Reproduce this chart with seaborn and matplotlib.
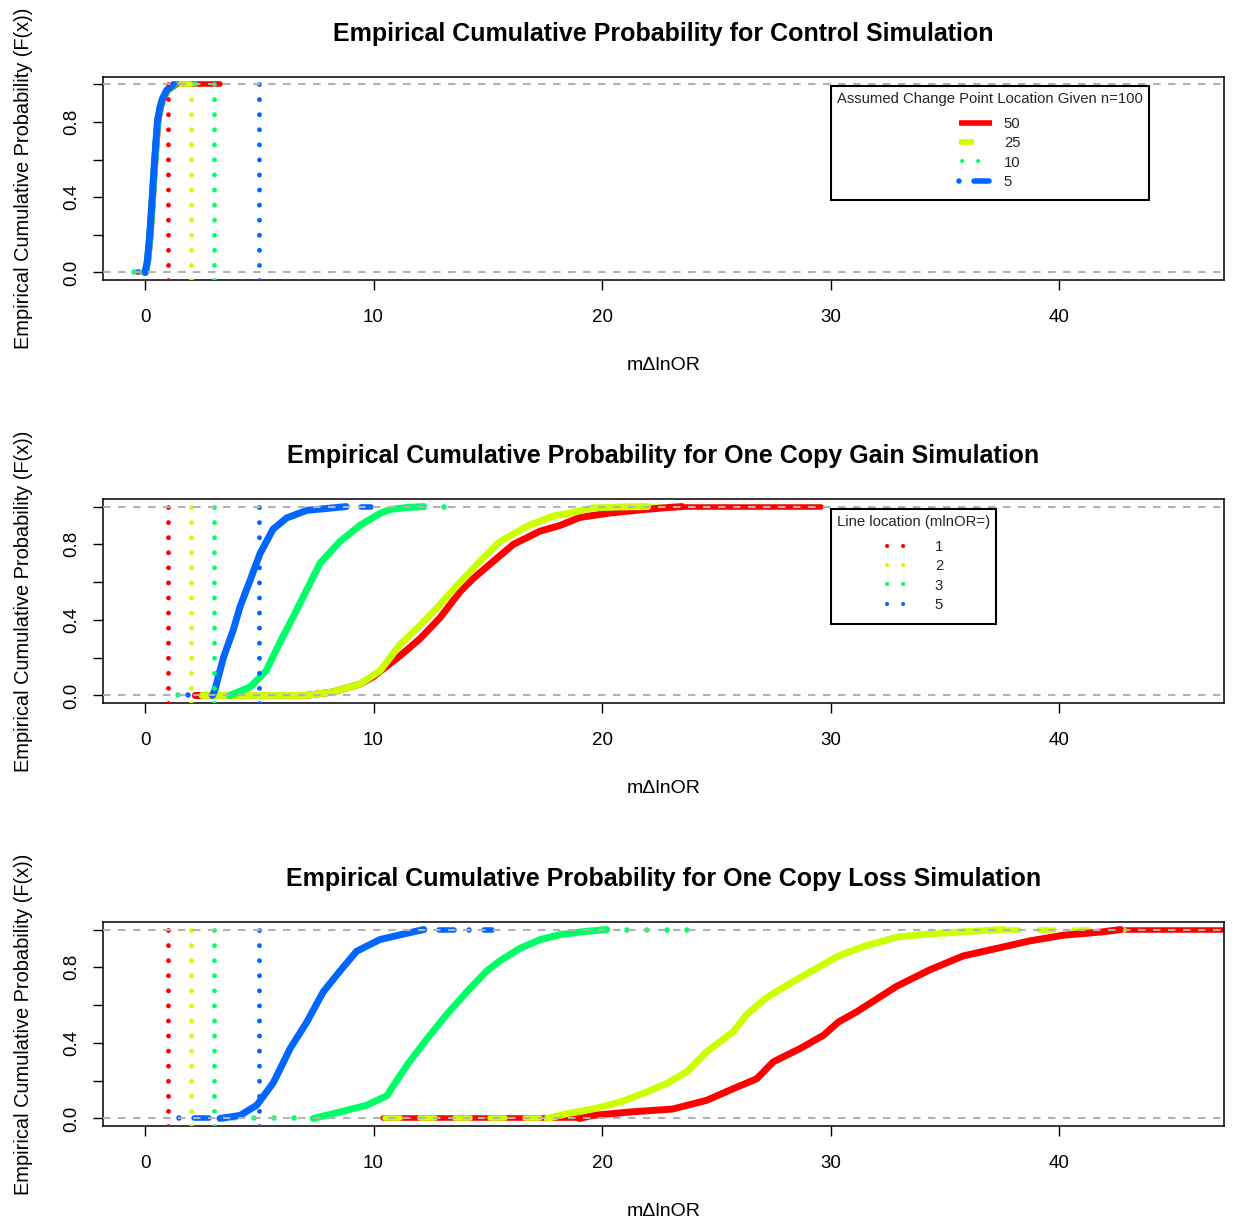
import numpy as np
import pandas as pd
import matplotlib
matplotlib.use("Agg")
import matplotlib.pyplot as plt
from matplotlib.lines import Line2D
import seaborn as sns

# ---------------------------------------------------------------- data
series = ["50", "25", "10", "5"]
line_locs = [1, 2, 3, 5]
line_loc_labels = ["1", "2", "3", "5"]

# Control simulation: ECDF knots (x) and cumulative probability (F)
ctrl_50_x = [0.02, 0.12, 0.22, 0.32, 0.41, 0.50, 0.57, 0.68, 0.77, 1.00, 1.35]
ctrl_50_f = [0.00, 0.06, 0.19, 0.37, 0.545, 0.70, 0.81, 0.88, 0.92, 0.97, 1.00]
ctrl_25_x = [0.01, 0.11, 0.21, 0.31, 0.40, 0.49, 0.56, 0.67, 0.76, 0.98, 1.30]
ctrl_25_f = [0.00, 0.06, 0.19, 0.37, 0.545, 0.70, 0.81, 0.88, 0.92, 0.97, 1.00]
ctrl_10_x = [0.00, 0.11, 0.21, 0.31, 0.40, 0.49, 0.56, 0.67, 0.76, 0.97, 1.30]
ctrl_10_f = [0.00, 0.06, 0.19, 0.37, 0.545, 0.70, 0.81, 0.88, 0.92, 0.97, 1.00]
ctrl_5_x = [0.00, 0.10, 0.20, 0.30, 0.39, 0.48, 0.55, 0.66, 0.75, 0.95, 1.25]
ctrl_5_f = [0.00, 0.06, 0.19, 0.37, 0.545, 0.70, 0.81, 0.88, 0.92, 0.97, 1.00]
ctrl_lo = [-0.2, -0.3, -0.5, -0.3]
ctrl_hi = [3.3, 2.6, 3.05, 1.6]

# One copy gain simulation
gain_50_x = [2.2, 7.0, 8.2, 9.4, 10.0, 11.16, 12.03, 12.9, 13.79, 14.37, 15.24,
             16.12, 17.29, 18.16, 19.04, 20.35, 21.8, 23.0, 23.5]
gain_50_f = [0.0, 0.0, 0.018, 0.06, 0.10, 0.21, 0.30, 0.41, 0.55, 0.62, 0.71,
             0.80, 0.87, 0.90, 0.943, 0.966, 0.984, 0.996, 1.0]
gain_25_x = [2.5, 7.0, 8.2, 9.4, 10.28, 11.16, 12.03, 12.9, 13.79, 14.66, 15.54,
             16.7, 17.87, 18.6, 19.6, 20.8, 22.0]
gain_25_f = [0.0, 0.0, 0.018, 0.06, 0.13, 0.27, 0.37, 0.48, 0.60, 0.71, 0.815,
             0.895, 0.95, 0.966, 0.993, 0.998, 1.0]
gain_10_x = [3.7, 4.6, 5.3, 5.9, 6.5, 7.08, 7.66, 8.53, 9.4, 10.3, 10.7, 11.45, 12.2]
gain_10_f = [0.0, 0.045, 0.13, 0.28, 0.42, 0.56, 0.70, 0.815, 0.90, 0.965, 0.984, 0.995, 1.0]
gain_5_x = [2.95, 3.06, 3.43, 3.87, 4.16, 4.6, 5.03, 5.6, 6.2, 7.08, 7.95, 8.8]
gain_5_f = [0.0, 0.03, 0.20, 0.35, 0.47, 0.61, 0.75, 0.88, 0.94, 0.98, 0.99, 1.0]
gain_lo = [2.2, 2.5, 1.45, 1.9]
gain_hi = [29.6, 23.5, 13.6, 9.9]

# One copy loss simulation
loss_50_x = [19.0, 19.6, 21.2, 23.1, 24.58, 25.75, 26.77, 27.5, 28.67, 29.69, 30.34,
             31.15, 32.9, 34.35, 35.8, 37.27, 38.73, 40.19, 41.94, 42.7]
loss_50_f = [0.0, 0.016, 0.034, 0.05, 0.096, 0.158, 0.21, 0.30, 0.37, 0.44, 0.51,
             0.565, 0.70, 0.787, 0.86, 0.90, 0.94, 0.97, 0.988, 1.0]
loss_25_x = [17.6, 18.45, 19.6, 20.8, 21.96, 22.83, 23.7, 24.58, 25.75, 26.33, 27.2,
             28.37, 29.54, 30.34, 31.44, 32.9, 34.35, 35.8, 37.6]
loss_25_f = [0.0, 0.025, 0.05, 0.087, 0.14, 0.185, 0.246, 0.353, 0.46, 0.55, 0.64,
             0.725, 0.805, 0.86, 0.91, 0.96, 0.977, 0.988, 1.0]
loss_10_x = [7.36, 8.53, 9.7, 10.58, 11.45, 12.33, 13.2, 14.08, 14.95, 15.54, 16.4,
             17.3, 18.16, 19.04, 20.2]
loss_10_f = [0.0, 0.034, 0.07, 0.12, 0.28, 0.42, 0.55, 0.67, 0.78, 0.835, 0.90,
             0.947, 0.973, 0.987, 1.0]
loss_5_x = [3.28, 4.16, 4.89, 5.62, 6.35, 7.08, 7.8, 8.53, 9.26, 10.28, 11.45, 12.2]
loss_5_f = [0.0, 0.016, 0.07, 0.19, 0.37, 0.51, 0.67, 0.78, 0.885, 0.947, 0.98, 1.0]
loss_lo = [10.4, 10.5, 3.9, 1.5]
loss_hi = [47.5, 43.5, 24.1, 15.2]

x_ticks = [0, 10, 20, 30, 40]
y_ticks = [0.0, 0.2, 0.4, 0.6, 0.8, 1.0]
y_tick_labels = ["0.0", "", "0.4", "", "0.8", ""]

titles = [
    "Empirical Cumulative Probability for Control Simulation",
    "Empirical Cumulative Probability for One Copy Gain Simulation",
    "Empirical Cumulative Probability for One Copy Loss Simulation",
]

# ---------------------------------------------------------------- styling
colors = ["#FF0000", "#CCFF00", "#00FF66", "#0066FF"]   # rainbow(5)[1:4]
tail_styles = ["solid", (0, (2.7, 3.6)), (0, (0.001, 3.6)), (0, (0.001, 2.7, 2.7, 2.7))]
curve_lw = 5.0
tail_lw = 4.0
vline_lw = 3.5
dot_style = (0, (0.001, 3.1))
legend_dot = (3.1, (0.001, 3.84))

sns.set_theme(style="white")
plt.rcParams["font.family"] = ["Liberation Sans", "DejaVu Sans"]
plt.rcParams["axes.edgecolor"] = "black"

fig = plt.figure(figsize=(12.36, 12.21), dpi=100)
fig.patch.set_facecolor("white")

panels = [
    ([ctrl_50_x, ctrl_25_x, ctrl_10_x, ctrl_5_x],
     [ctrl_50_f, ctrl_25_f, ctrl_10_f, ctrl_5_f], ctrl_lo, ctrl_hi),
    ([gain_50_x, gain_25_x, gain_10_x, gain_5_x],
     [gain_50_f, gain_25_f, gain_10_f, gain_5_f], gain_lo, gain_hi),
    ([loss_50_x, loss_25_x, loss_10_x, loss_5_x],
     [loss_50_f, loss_25_f, loss_10_f, loss_5_f], loss_lo, loss_hi),
]

axes_rects = [
    [0.0833, 0.7707, 0.9070, 0.1663],
    [0.0833, 0.4242, 0.9070, 0.1671],
    [0.0833, 0.0778, 0.9070, 0.1671],
]

leg_fs = 10.75

for p, (xs, fs, lo, hi) in enumerate(panels):
    ax = fig.add_axes(axes_rects[p])
    ax.set_facecolor("white")

    for i, name in enumerate(series):
        df = pd.DataFrame({"x": xs[i], "F": fs[i]})
        # left (F = 0) and right (F = 1) horizontal extensions of the step function
        sns.lineplot(x=[lo[i], xs[i][0]], y=[0, 0], ax=ax, color=colors[i],
                     lw=tail_lw, linestyle=tail_styles[i], dash_capstyle="round",
                     solid_capstyle="round", zorder=2)
        sns.lineplot(x=[xs[i][-1], hi[i]], y=[1, 1], ax=ax, color=colors[i],
                     lw=tail_lw, linestyle=tail_styles[i], dash_capstyle="round",
                     solid_capstyle="round", zorder=2)
        sns.lineplot(data=df, x="x", y="F", ax=ax, color=colors[i], lw=curve_lw,
                     sort=False, estimator=None, solid_capstyle="round",
                     solid_joinstyle="round", zorder=3)

    for loc, c in zip(line_locs, colors):
        ax.axvline(loc, color=c, lw=vline_lw, linestyle=dot_style,
                   dash_capstyle="round", zorder=4)

    for yv in (0, 1):
        ax.axhline(yv, color="#B3B3B3", lw=1.5, linestyle=(0, (3.6, 3.6)), zorder=5)

    ax.set_xlim(-1.84, 47.22)
    ax.set_ylim(-0.04, 1.04)
    ax.set_xticks(x_ticks)
    ax.set_xticklabels([str(t) for t in x_ticks])
    ax.set_yticks(y_ticks)
    ax.set_yticklabels(y_tick_labels)
    ax.tick_params(axis="both", which="major", bottom=True, left=True, direction="out",
                   length=7, width=1.0, color="black", labelsize=13.5, labelcolor="black")
    ax.tick_params(axis="x", pad=14)
    ax.tick_params(axis="y", pad=9, labelrotation=90)
    for lab in ax.get_yticklabels():
        lab.set_va("center")
    for s in ax.spines.values():
        s.set_visible(True)
        s.set_color("black")
        s.set_linewidth(1.1)

    ax.set_xlabel("m\u0394lnOR", fontsize=14, labelpad=22, color="black")
    ax.set_ylabel("Empirical Cumulative Probability (F(x))", fontsize=14.4,
                  labelpad=22, color="black")
    ax.set_title(titles[p], fontsize=18, fontweight="bold", pad=26, color="black")

    if p == 0:
        handles = [
            Line2D([], [], color=colors[0], lw=4, linestyle="solid", solid_capstyle="butt"),
            Line2D([], [], color=colors[1], lw=4, linestyle=(0, (2.7, 3.6)), dash_capstyle="butt"),
            Line2D([], [], color=colors[2], lw=3, linestyle=legend_dot, dash_capstyle="round"),
            Line2D([], [], color=colors[3], lw=4, linestyle=(0, (0.001, 2.7, 2.7, 2.7)),
                   dash_capstyle="round"),
        ]
        leg = ax.legend(handles, series, title="Assumed Change Point Location Given n=100",
                        loc="upper left", bbox_to_anchor=(0.6494, 0.9557), borderaxespad=0,
                        fontsize=leg_fs, title_fontsize=leg_fs, handlelength=2.2,
                        handletextpad=0.8, labelspacing=0.36, borderpad=0.4,
                        fancybox=False, framealpha=1, frameon=True)
    elif p == 1:
        handles = [Line2D([], [], color=c, lw=3, linestyle=legend_dot,
                          dash_capstyle="round") for c in colors]
        leg = ax.legend(handles, line_loc_labels, title="Line location (mlnOR=)",
                        loc="upper left", bbox_to_anchor=(0.6494, 0.951), borderaxespad=0,
                        fontsize=leg_fs, title_fontsize=leg_fs, handlelength=2.2,
                        handletextpad=1.2, labelspacing=0.36, borderpad=0.4,
                        fancybox=False, framealpha=1, frameon=True)
    if p in (0, 1):
        # extra room above and below the legend entries
        leg._legend_handle_box.pad = 4.0
        leg.get_frame().set_edgecolor("black")
        leg.get_frame().set_linewidth(1.5)
        leg.set_zorder(10)

fig.savefig("out.png", dpi=100, facecolor="white")
